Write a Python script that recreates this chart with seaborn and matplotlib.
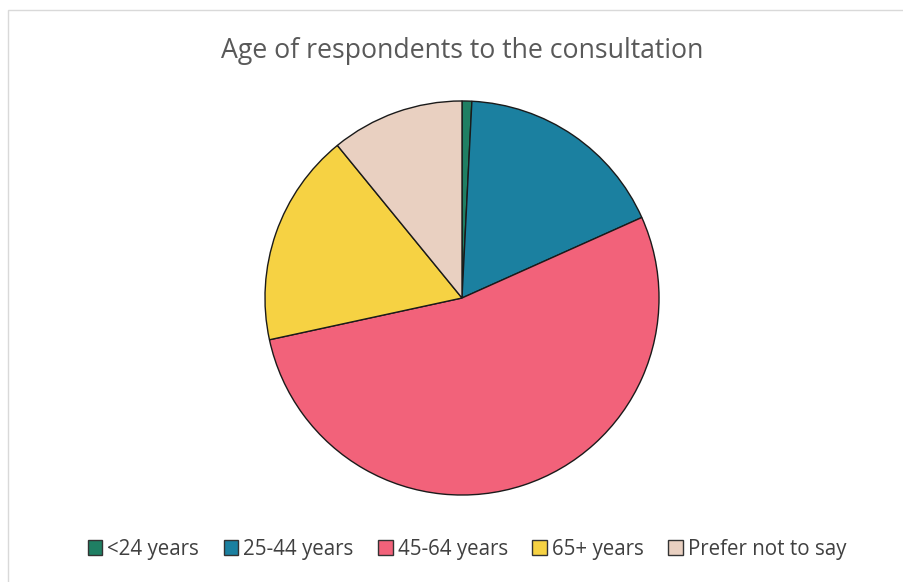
import matplotlib
matplotlib.use("Agg")
import matplotlib.pyplot as plt
import seaborn as sns
from matplotlib.patches import Patch, Rectangle

sns.set_theme(style="white")
plt.rcParams['font.family'] = ['Open Sans', 'DejaVu Sans']

categories = ["<24 years", "25-44 years", "45-64 years", "65+ years", "Prefer not to say"]
values = [0.8, 17.5, 53.3, 17.5, 10.9]
colors = ["#1F7F63", "#1B80A0", "#F2627A", "#F6D243", "#E9D0C1"]
title = "Age of respondents to the consultation"

W, H = 904, 582
fig = plt.figure(figsize=(W / 100, H / 100), dpi=100)
fig.patch.set_facecolor("white")

cx, cy, r = 462, 298, 198
ax = fig.add_axes([(cx - r) / W, (H - cy - r) / H, 2 * r / W, 2 * r / H])
ax.pie(values, colors=colors, startangle=90, counterclock=False,
       wedgeprops=dict(edgecolor="#1a1a1a", linewidth=1.0))
ax.set_xlim(-1.005, 1.005)
ax.set_ylim(-1.005, 1.005)
ax.set_aspect("equal")
ax.axis("off")

fig.text(cx / W, 1 - 51 / H, title, ha="center", va="center",
         fontsize=19.2, color="#595959")

handles = [Patch(facecolor=c, edgecolor="#333333", linewidth=1.0) for c in colors]
leg = fig.legend(handles, categories, loc="center", bbox_to_anchor=(467 / W, 1 - 549 / H),
                 ncol=5, frameon=False, fontsize=14.8, handlelength=0.7, handleheight=0.7,
                 handletextpad=0.25, columnspacing=1.2, labelcolor="#404040")

fig.patches.append(Rectangle((8 / W, -0.1), 1.2, 1 - 10 / H + 0.1, transform=fig.transFigure,
                             fill=False, edgecolor="#d9d9d9", linewidth=1.0))

fig.savefig("out.png", dpi=100)
